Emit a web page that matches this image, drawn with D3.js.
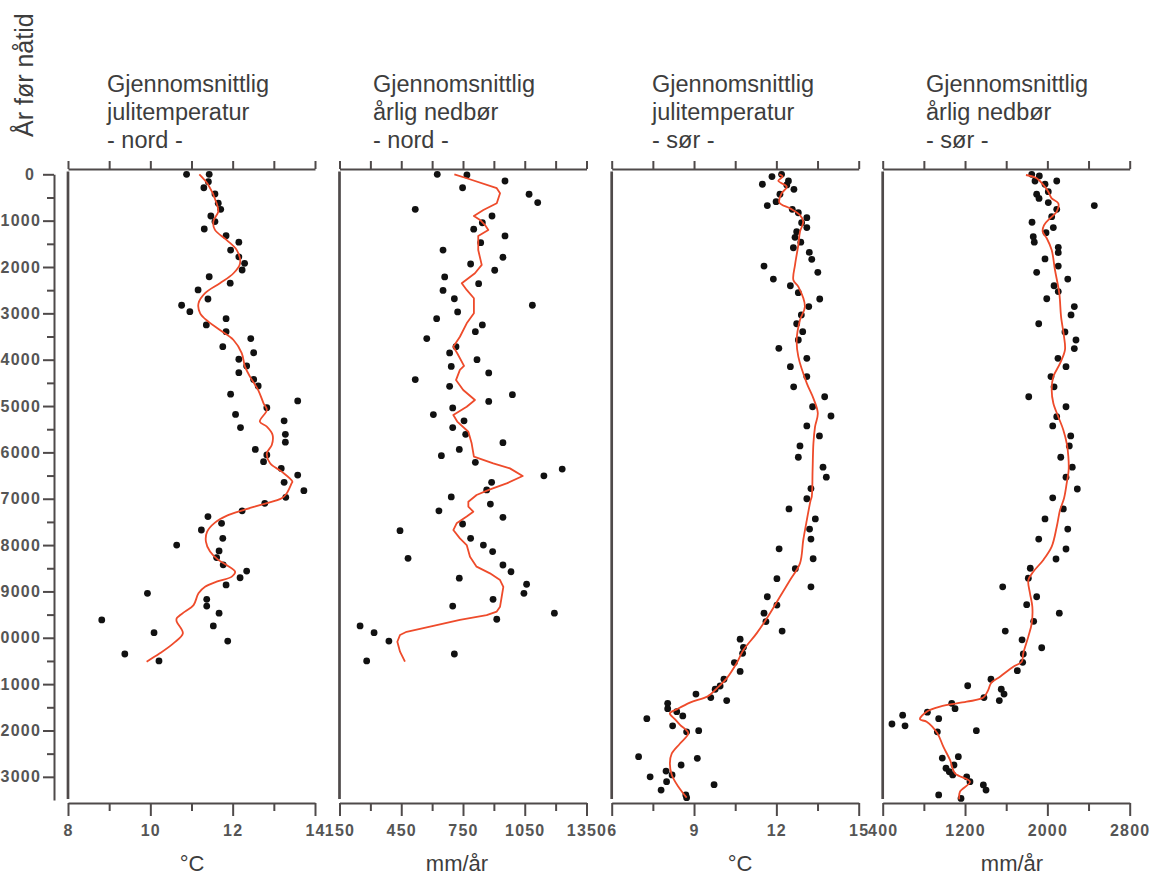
<!DOCTYPE html>
<html><head><meta charset="utf-8">
<script src="https://cdn.jsdelivr.net/npm/d3@7"></script>
<style>
body{margin:0;background:#fff;}
svg{display:block;font-family:"Liberation Sans",Arial,Helvetica,sans-serif;}
</style></head><body>
<svg id="chart" width="1155" height="874"></svg>
<script>
// ---------------- DATA ----------------
const yearTicks = d3.range(0, 13001, 500);
const yAxisTitle = "År før nåtid";
const panelTitles = [
  ["Gjennomsnittlig", "julitemperatur", "- nord -"],
  ["Gjennomsnittlig", "årlig nedbør", "- nord -"],
  ["Gjennomsnittlig", "julitemperatur", "- sør -"],
  ["Gjennomsnittlig", "årlig nedbør", "- sør -"]
];
const unitLabels = ["°C", "mm/år", "°C", "mm/år"];
const xDomains = [[8, 14], [150, 1350], [6, 15], [400, 2800]];
const xTickValues = [
  [8, 9, 10, 11, 12, 13, 14],
  [150, 300, 450, 600, 750, 900, 1050, 1200, 1350],
  [6, 7.5, 9, 10.5, 12, 13.5, 15],
  [400, 800, 1200, 1600, 2000, 2400, 2800]
];
const xTickLabels = [
  [8, 10, 12, 14],
  [150, 450, 750, 1050, 1350],
  [6, 9, 12, 15],
  [400, 1200, 2000, 2800]
];

// [years before present, value]
const nordTempPoints = [[0,10.88],[0,11.43],[160,11.41],[290,11.30],[425,11.57],[625,11.65],[755,11.71],[900,11.47],[1020,11.57],[1180,11.31],[1325,11.84],[1465,12.15],[1635,11.95],[1780,12.15],[1920,12.29],[2065,12.23],[2210,11.43],[2350,11.94],[2495,11.16],[2690,11.40],[2825,10.76],[2965,10.96],[3115,11.84],[3250,11.36],[3395,11.84],[3545,12.44],[3720,11.76],[3850,12.51],[3990,12.15],[4135,12.34],[4280,12.15],[4425,12.51],[4565,12.62],[4745,11.95],[4890,13.58],[5035,12.83],[5180,12.07],[5320,13.25],[5465,12.19],[5610,13.28],[5780,13.28],[5935,12.55],[6055,12.83],[6200,12.75],[6345,13.18],[6490,13.58],[6645,13.25],[6825,13.73],[6970,13.29],[7100,12.78],[7260,12.23],[7385,11.40],[7530,11.73],[7675,11.24],[7855,11.76],[8000,10.64],[8125,11.67],[8270,11.61],[8425,11.77],[8560,12.34],[8705,12.18],[8860,11.84],[9040,9.93],[9170,11.37],[9315,11.37],[9470,11.67],[9615,8.82],[9745,11.53],[9890,10.09],[10070,11.88],[10350,9.38],[10500,10.21]];
const nordTempCurve = [[0,11.19],[230,11.41],[625,11.61],[805,11.65],[1020,11.53],[1200,11.57],[1415,11.85],[1635,12.10],[1920,12.18],[2135,12.02],[2350,11.69],[2565,11.33],[2785,11.17],[3000,11.21],[3180,11.41],[3360,11.69],[3575,12.02],[3860,12.22],[4150,12.30],[4365,12.42],[4655,12.62],[4940,12.75],[5085,12.83],[5335,12.66],[5445,12.83],[5625,12.97],[5840,12.95],[6020,12.83],[6235,12.91],[6415,13.19],[6630,13.45],[6670,13.43],[6885,13.31],[6990,13.19],[7115,12.75],[7245,12.26],[7370,11.85],[7515,11.57],[7710,11.38],[7925,11.35],[8140,11.45],[8320,11.65],[8430,11.85],[8575,12.06],[8680,11.98],[8790,11.61],[8900,11.33],[9040,11.17],[9295,11.05],[9435,10.84],[9580,10.64],[9650,10.64],[9905,10.79],[10120,10.56],[10335,10.23],[10515,9.91]];

const nordPrecPoints = [[0,625],[15,769],[145,954],[290,748],[430,1071],[610,1113],[755,518],[900,891],[1045,844],[1185,802],[1330,954],[1475,836],[1635,653],[1790,944],[1935,787],[2070,904],[2215,661],[2360,826],[2505,653],[2685,708],[2825,1087],[2970,724],[3115,622],[3250,844],[3395,810],[3545,574],[3720,716],[3855,685],[4000,818],[4145,693],[4285,875],[4430,518],[4575,685],[4755,990],[4900,875],[5040,700],[5185,606],[5320,755],[5465,700],[5610,763],[5790,944],[5935,732],[6070,645],[6215,810],[6360,1232],[6505,1143],[6645,889],[6810,865],[6960,693],[7115,883],[7260,633],[7400,944],[7545,748],[7690,444],[7855,787],[8000,849],[8140,894],[8285,483],[8430,944],[8575,983],[8715,732],[8845,1059],[9040,1046],[9170,896],[9315,700],[9470,1194],[9600,914],[9745,250],[9890,318],[10070,390],[10350,708],[10500,282]];
const nordPrecCurve = [[0,708],[85,768],[300,914],[410,930],[625,914],[770,849],[900,803],[985,833],[1095,857],[1200,873],[1330,824],[1635,824],[1955,841],[2135,808],[2350,744],[2495,768],[2675,803],[3000,803],[3215,768],[3505,735],[3720,703],[3860,722],[4135,755],[4220,735],[4440,716],[4655,751],[4870,808],[5015,768],[5195,703],[5335,722],[5555,776],[5805,792],[6090,803],[6235,897],[6345,978],[6510,1040],[6670,962],[6810,875],[6920,816],[7065,776],[7170,776],[7280,800],[7385,768],[7530,719],[7675,703],[7855,735],[8000,768],[8250,784],[8465,816],[8610,881],[8755,930],[8900,946],[9115,938],[9330,930],[9435,914],[9510,865],[9615,735],[9745,606],[9870,476],[9940,444],[10085,431],[10300,444],[10515,468]];

const sorTempPoints = [[0,12.19],[50,11.84],[145,12.44],[215,11.49],[230,12.38],[325,12.64],[430,12.13],[590,11.99],[675,11.67],[755,12.58],[830,12.80],[935,13.11],[1045,12.92],[1150,13.11],[1240,12.74],[1360,12.68],[1465,12.89],[1585,12.62],[1685,13.20],[1835,13.29],[1980,11.55],[2115,13.51],[2260,11.89],[2405,12.51],[2555,12.80],[2690,13.58],[2855,13.18],[3035,12.91],[3225,12.74],[3395,12.96],[3575,12.80],[3755,12.09],[3970,13.11],[4150,12.51],[4365,13.11],[4585,12.63],[4800,13.76],[5015,13.32],[5215,13.99],[5430,13.11],[5645,13.57],[5860,12.86],[6105,12.80],[6320,13.70],[6535,13.82],[6780,13.26],[7000,13.11],[7220,12.46],[7435,13.42],[7655,13.21],[7870,13.26],[8080,12.10],[8295,13.34],[8510,12.69],[8725,12.02],[8900,13.26],[9115,11.67],[9295,12.02],[9470,11.55],[9650,11.62],[9855,12.21],[10030,10.68],[10205,10.80],[10335,10.77],[10535,10.47],[10725,10.68],[10895,10.09],[11040,9.95],[11110,9.77],[11215,9.07],[11290,9.61],[11355,10.19],[11415,8.04],[11530,8.04],[11595,8.37],[11685,8.59],[11745,7.28],[11900,8.22],[12030,8.73],[12005,9.17],[12565,6.98],[12600,9.12],[12745,8.53],[12875,7.98],[12960,8.20],[13000,7.40],[13105,8.00],[13170,9.73],[13285,7.80],[13390,8.70],[13450,8.73]];
const sorTempCurve = [[0,12.11],[50,12.23],[140,12.07],[270,12.38],[410,12.19],[610,12.11],[735,12.50],[880,12.86],[1020,12.98],[1240,12.86],[1525,12.80],[1955,12.68],[2280,12.62],[2425,12.80],[2855,13.04],[3145,12.86],[3575,12.74],[3935,12.80],[4510,13.11],[4835,13.35],[5155,13.51],[5445,13.41],[5805,13.35],[6380,13.32],[6955,13.29],[7030,13.25],[7460,13.11],[7890,12.98],[8395,12.86],[8755,12.50],[9115,12.13],[9470,11.77],[9905,11.28],[10265,10.80],[10550,10.55],[10875,10.19],[11090,9.83],[11255,9.52],[11400,8.85],[11545,8.37],[11630,8.12],[11760,8.31],[11880,8.49],[12060,8.79],[12280,8.49],[12495,8.19],[12710,8.12],[12960,8.19],[13215,8.43],[13450,8.73]];

const sorPrecPoints = [[0,1848],[35,1922],[145,1880],[145,2091],[215,1977],[375,2009],[430,1896],[520,1919],[610,2009],[675,2456],[755,2091],[915,2042],[1035,1851],[1150,2058],[1260,1987],[1345,1863],[1465,1873],[1575,2106],[1690,2106],[1825,1977],[1980,2106],[2115,1896],[2260,2198],[2405,2065],[2530,2106],[2685,1994],[2855,2262],[3035,2230],[3225,1916],[3400,2171],[3575,2278],[3760,2262],[3970,2103],[4150,2181],[4365,2035],[4585,2065],[4800,1819],[5015,2181],[5230,2091],[5430,2052],[5645,2227],[5860,2213],[6105,2130],[6320,2242],[6535,2181],[6790,2291],[6980,2052],[7220,2155],[7435,1977],[7655,2198],[7870,1916],[8085,2181],[8300,2084],[8500,1834],[8715,1815],[8900,1566],[9115,1896],[9285,1799],[9470,2116],[9645,1867],[9855,1591],[10045,1754],[10215,1945],[10350,1766],[10530,1760],[10710,1708],[10895,1452],[11035,1226],[11110,1552],[11215,1579],[11290,1384],[11355,1533],[11415,1071],[11530,1103],[11605,834],[11670,594],[11745,944],[11860,490],[11900,617],[12030,931],[12005,1310],[12595,979],[12565,1135],[12745,1093],[12815,1015],[12890,1047],[12960,1080],[13000,1216],[13105,1248],[13175,1378],[13285,1404],[13390,944],[13465,1161]];
const sorPrecCurve = [[15,1792],[85,1896],[230,1961],[375,2009],[520,2042],[625,2106],[805,2091],[950,2026],[1095,1968],[1240,1955],[1380,1994],[1635,2042],[2065,2074],[2570,2116],[3070,2133],[3505,2162],[3790,2171],[4080,2123],[4365,2058],[4655,2042],[4940,2058],[5230,2106],[5515,2155],[5805,2188],[6090,2204],[6380,2207],[6665,2188],[6990,2162],[7245,2123],[7605,2091],[8035,2042],[8320,1961],[8575,1863],[8755,1815],[9040,1831],[9330,1854],[9690,1848],[9975,1815],[10335,1766],[10515,1751],[10625,1669],[10840,1540],[10980,1452],[11125,1426],[11290,1378],[11380,1216],[11485,957],[11595,827],[11760,762],[11810,827],[12060,931],[12350,989],[12635,1054],[12925,1103],[13105,1248],[13320,1151],[13485,1144]];

const panelPoints = [nordTempPoints, nordPrecPoints, sorTempPoints, sorPrecPoints];
const panelCurves = [nordTempCurve, nordPrecCurve, sorTempCurve, sorPrecCurve];

// ---------------- LAYOUT ----------------
const svg = d3.select("#chart");
const axisColor = "#4f4a4a";
const textColor = "#3d3d3d";
const panelLefts = [68, 339.5, 611.7, 882.7];
const panelWidth = 247;
const titleX = [107, 373, 652, 926];
const unitX = [192, 457, 740, 1012];
const topAxisY = 169;
const bottomAxisY = 803;

const y = d3.scaleLinear().domain([0, 13500]).range([174.3, 800]);

// Y axis title
svg.append("text")
  .attr("transform", "translate(33,137) rotate(-90)")
  .attr("font-size", 25).attr("fill", textColor)
  .text(yAxisTitle);

// Y axis
const yAxisG = svg.append("g").attr("transform", "translate(54,0)")
  .call(d3.axisLeft(y).tickValues(yearTicks).tickSizeOuter(0)
    .tickFormat(d => d % 1000 === 0 ? d : ""));
yAxisG.select(".domain").attr("stroke", axisColor).attr("stroke-width", 2);
yAxisG.selectAll(".tick line").attr("stroke", axisColor).attr("stroke-width", 2)
  .attr("x2", d => d % 1000 === 0 ? -11 : -7);
yAxisG.selectAll(".tick text")
  .attr("x", d => d === 0 ? -19 : -13)
  .attr("font-size", 16).attr("font-weight", "bold").attr("letter-spacing", 1.2)
  .attr("fill", "#555").attr("font-family", "Liberation Sans, Arial, sans-serif");

panelPoints.forEach((pts, i) => {
  const left = panelLefts[i];
  const x = d3.scaleLinear().domain(xDomains[i]).range([left, left + panelWidth]);
  const g = svg.append("g");

  // titles
  const t = g.append("text").attr("font-size", 23.5).attr("fill", textColor);
  panelTitles[i].forEach((line, k) => {
    t.append("tspan").attr("x", titleX[i]).attr("y", 91.5 + k * 28).text(line);
  });

  // top axis
  const top = g.append("g").attr("transform", `translate(0,${topAxisY})`)
    .call(d3.axisTop(x).tickValues(xTickValues[i]).tickSize(8).tickSizeOuter(0).tickFormat(""));
  top.select(".domain").attr("stroke", axisColor).attr("stroke-width", 2);
  top.selectAll(".tick line").attr("stroke", axisColor).attr("stroke-width", 2);

  // bottom axis
  const labelled = new Set(xTickLabels[i]);
  const bot = g.append("g").attr("transform", `translate(0,${bottomAxisY})`)
    .call(d3.axisBottom(x).tickValues(xTickValues[i]).tickSizeOuter(0)
      .tickFormat(d => labelled.has(d) ? d : ""));
  bot.select(".domain").attr("stroke", axisColor).attr("stroke-width", 2);
  bot.selectAll(".tick line").attr("stroke", axisColor).attr("stroke-width", 2)
    .attr("y2", d => labelled.has(d) ? 13 : 8);
  bot.selectAll(".tick text").attr("y", 22)
    .attr("font-size", 16).attr("font-weight", "bold").attr("letter-spacing", 1.2)
    .attr("fill", "#555").attr("font-family", "Liberation Sans, Arial, sans-serif");

  // unit label
  g.append("text").attr("x", unitX[i]).attr("y", 871)
    .attr("text-anchor", "middle").attr("font-size", 22).attr("fill", textColor)
    .text(unitLabels[i]);

  // left vertical line of panel
  g.append("line").attr("x1", left).attr("x2", left).attr("y1", 171.5).attr("y2", 799)
    .attr("stroke", axisColor).attr("stroke-width", 2.7);

  // dots
  g.append("g").selectAll("circle").data(pts).join("circle")
    .attr("cx", d => x(d[1])).attr("cy", d => y(d[0])).attr("r", 3.4).attr("fill", "#111");

  // smoothed curve
  const line = d3.line().x(d => x(d[1])).y(d => y(d[0]))
    .curve(i === 1 ? d3.curveLinear : d3.curveCatmullRom.alpha(0.5));
  g.append("path").datum(panelCurves[i]).attr("d", line)
    .attr("fill", "none").attr("stroke", "#ee4b2b").attr("stroke-width", 1.8)
    .attr("stroke-linejoin", "round");
});
</script>
</body></html>
